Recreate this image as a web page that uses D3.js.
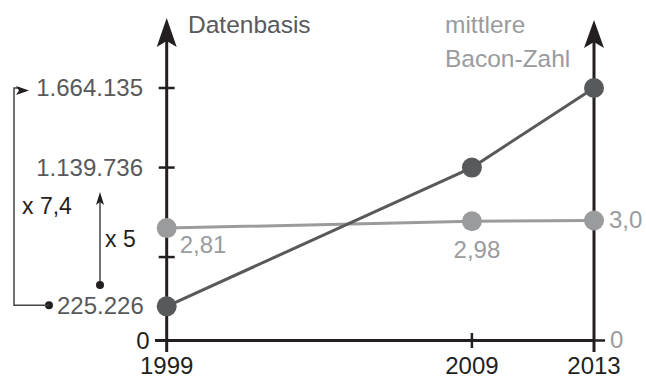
<!DOCTYPE html>
<html>
<head>
<meta charset="utf-8">
<script src="https://cdn.jsdelivr.net/npm/d3@7"></script>
<style>
  html, body { margin: 0; padding: 0; background: #fff; }
  svg { display: block; }
  text { font-family: "Liberation Sans", Arial, Helvetica, sans-serif; }
</style>
</head>
<body>
<div id="chart"></div>
<script>
// ---- data ----
const years = [1999, 2009, 2013];
const datenbasis = [225226, 1139736, 1664135];
const bacon = [2.81, 2.98, 3.0];
const baconLabels = ["2,81", "2,98", "3,0"];
const leftTickValues = [1664135, 1139736, 550000, 0];
const leftTickLabels = ["1.664.135", "1.139.736", "", "0"];
const yearLabels = ["1999", "2009", "2013"];

const W = 646, H = 378;
const dark = "#58595b", light = "#9a9b9d", ink = "#231f20";

const svg = d3.select("#chart").append("svg").attr("width", W).attr("height", H);

const x = d3.scaleLinear().domain([1999, 2013]).range([166.7, 594]);
const yL = d3.scaleLinear().domain([0, 1664135]).range([340.5, 88]);
const yR = d3.scaleLinear().domain([0, 3]).range([340.5, 220.5]);

// arrowhead helper
function arrowHead(g, cx, tipY, halfW, len, notch, color) {
  g.append("path")
    .attr("d", `M${cx},${tipY} L${cx + halfW},${tipY + len} L${cx},${tipY + len - notch} L${cx - halfW},${tipY + len} Z`)
    .attr("fill", color);
}

const axes = svg.append("g");
// x axis baseline
axes.append("line").attr("x1", 155).attr("x2", x(2013)).attr("y1", yR(0)).attr("y2", yR(0))
  .attr("stroke", ink).attr("stroke-width", 3);
// right zero tick
axes.append("line").attr("x1", x(2013)).attr("x2", 605).attr("y1", yR(0)).attr("y2", yR(0))
  .attr("stroke", ink).attr("stroke-width", 2.5);
// left axis
axes.append("line").attr("x1", x(1999)).attr("x2", x(1999)).attr("y1", 352).attr("y2", 40)
  .attr("stroke", ink).attr("stroke-width", 3);
arrowHead(axes, x(1999), 18, 10, 29, 6, ink);
// right axis
axes.append("line").attr("x1", x(2013)).attr("x2", x(2013)).attr("y1", 352).attr("y2", 42)
  .attr("stroke", ink).attr("stroke-width", 3);
arrowHead(axes, x(2013), 20, 10, 28, 6, ink);
// 2009 tick
axes.append("line").attr("x1", x(2009)).attr("x2", x(2009)).attr("y1", 333).attr("y2", 348)
  .attr("stroke", ink).attr("stroke-width", 2.5);

// left ticks
leftTickValues.forEach((v, i) => {
  if (v !== 0) {
    axes.append("line").attr("x1", x(1999) - 8).attr("x2", x(1999) + 8)
      .attr("y1", yL(v)).attr("y2", yL(v)).attr("stroke", ink).attr("stroke-width", 2.5);
  }
  if (leftTickLabels[i]) {
    axes.append("text")
      .attr("x", v === 0 ? 149.5 : 143).attr("y", yL(v) + 8)
      .attr("text-anchor", "end").attr("font-size", 24)
      .attr("fill", v === 0 ? ink : dark)
      .text(leftTickLabels[i]);
  }
});

// year labels
years.forEach((yr, i) => {
  axes.append("text").attr("x", x(yr)).attr("y", 374).attr("text-anchor", "middle")
    .attr("font-size", 24).attr("fill", ink).text(yearLabels[i]);
});

// right axis zero label
axes.append("text").attr("x", 610).attr("y", yR(0) + 7).attr("font-size", 24)
  .attr("fill", light).text("0");

// titles
svg.append("text").attr("x", 188).attr("y", 33).attr("font-size", 24.5).attr("fill", dark).text("Datenbasis");
svg.append("text").attr("x", 445).attr("y", 33).attr("font-size", 24.5).attr("fill", light).text("mittlere");
svg.append("text").attr("x", 445).attr("y", 67).attr("font-size", 24.5).attr("fill", light).text("Bacon-Zahl");

// series: light first, dark on top
const lineL = d3.line().x((d, i) => x(years[i])).y(d => yR(d));
const lineD = d3.line().x((d, i) => x(years[i])).y(d => yL(d));

svg.append("path").datum(bacon).attr("d", lineL).attr("fill", "none")
  .attr("stroke", light).attr("stroke-width", 3);
svg.selectAll("circle.b").data(bacon).enter().append("circle").attr("class", "b")
  .attr("cx", (d, i) => x(years[i])).attr("cy", d => yR(d)).attr("r", 10).attr("fill", light);

svg.append("path").datum(datenbasis).attr("d", lineD).attr("fill", "none")
  .attr("stroke", dark).attr("stroke-width", 3);
svg.selectAll("circle.d").data(datenbasis).enter().append("circle").attr("class", "d")
  .attr("cx", (d, i) => x(years[i])).attr("cy", d => yL(d)).attr("r", 10).attr("fill", dark);

// bacon value labels
const bLabelPos = [
  { dx: 13, dy: 25, anchor: "start" },
  { dx: 5, dy: 37, anchor: "middle" },
  { dx: 15, dy: 7, anchor: "start" }
];
bacon.forEach((v, i) => {
  svg.append("text").attr("x", x(years[i]) + bLabelPos[i].dx).attr("y", yR(v) + bLabelPos[i].dy)
    .attr("text-anchor", bLabelPos[i].anchor).attr("font-size", 24).attr("fill", light)
    .text(baconLabels[i]);
});

// annotations
const ann = svg.append("g");
// 225.226 label with dot
ann.append("text").attr("x", 57).attr("y", yL(datenbasis[0]) + 8).attr("font-size", 24)
  .attr("fill", dark).text("225.226");
ann.append("circle").attr("cx", 49).attr("cy", yL(datenbasis[0]) - 1).attr("r", 4).attr("fill", ink);
// bracket x 7,4
ann.append("path")
  .attr("d", `M49,${yL(datenbasis[0]) - 1} H14 V${yL(datenbasis[2])} H20`)
  .attr("fill", "none").attr("stroke", "#444").attr("stroke-width", 1.5);
ann.append("path")
  .attr("d", `M29,${yL(datenbasis[2]) + 2.5} L16,${yL(datenbasis[2]) - 2} L19,${yL(datenbasis[2]) + 2.5} L16,${yL(datenbasis[2]) + 7} Z`)
  .attr("fill", ink);
ann.append("text").attr("x", 22).attr("y", 214).attr("font-size", 23).attr("fill", ink).text("x 7,4");
// x 5 arrow
ann.append("line").attr("x1", 100).attr("x2", 100).attr("y1", 285).attr("y2", 198)
  .attr("stroke", "#444").attr("stroke-width", 1.5);
ann.append("circle").attr("cx", 100).attr("cy", 285).attr("r", 4).attr("fill", ink);
ann.append("path").attr("d", "M100,192 L104,205 L100,202 L96,205 Z").attr("fill", ink);
ann.append("text").attr("x", 105).attr("y", 247).attr("font-size", 23).attr("fill", ink).text("x 5");
</script>
</body>
</html>
